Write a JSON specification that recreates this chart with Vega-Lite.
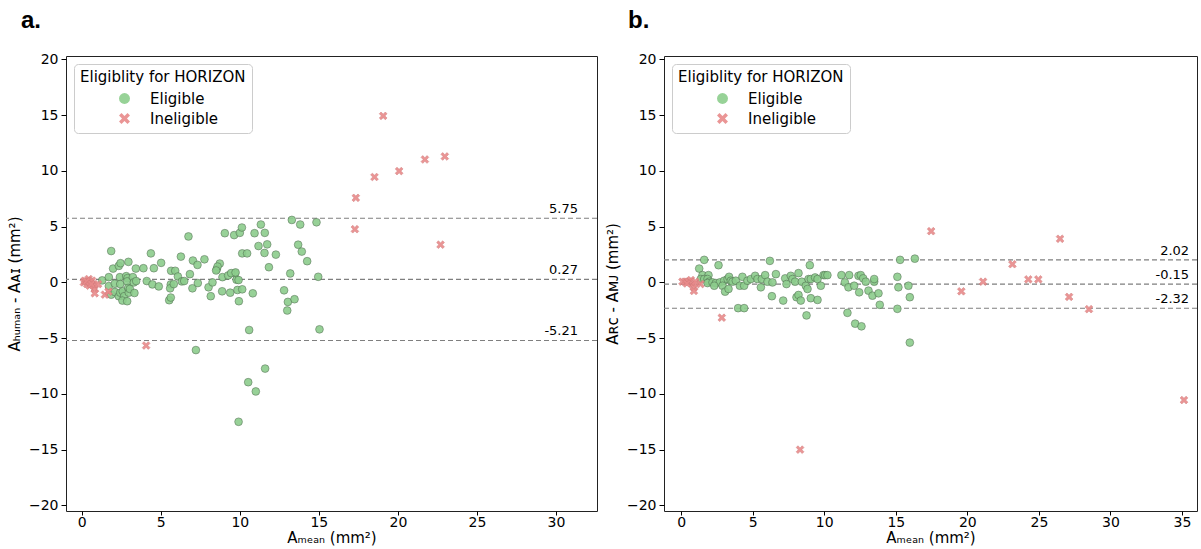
{
  "$schema": "https://vega.github.io/schema/vega-lite/v6.json",
  "autosize": {"type": "pad"},
  "padding": {"left": 6, "top": 8, "right": 2, "bottom": 0},
  "background": "white",
  "config": {
    "font": "DejaVu Sans",
    "view": {"stroke": "#222", "strokeWidth": 1},
    "legend": {
      "orient": "none", "legendX": 8, "legendY": 8, "fillColor": "white", "strokeColor": "#cccccc",
      "cornerRadius": 4, "padding": 6, "titleFontSize": 15, "titleFontWeight": "normal",
      "titleColor": "#000", "labelFontSize": 15, "labelColor": "#000", "symbolSize": 120,
      "symbolStrokeWidth": 0, "symbolOffset": 37, "labelOffset": 18, "rowPadding": 4, "titlePadding": 6
    },
    "title": {"fontSize": 24, "fontWeight": "bold", "font": "Liberation Sans", "anchor": "start", "color": "#000", "frame": "group"}
  },
  "datasets": {
    "pts": [
      {"panel":"a","x":1.86,"y":2.81,"g":"Eligible"},{"panel":"a","x":1.98,"y":1.24,"g":"Eligible"},{"panel":"a","x":2.34,"y":1.48,"g":"Eligible"},{"panel":"a","x":2.45,"y":1.72,"g":"Eligible"},{"panel":"a","x":2.95,"y":1.84,"g":"Eligible"},{"panel":"a","x":3.42,"y":1.24,"g":"Eligible"},{"panel":"a","x":3.9,"y":1.27,"g":"Eligible"},{"panel":"a","x":4.37,"y":2.6,"g":"Eligible"},{"panel":"a","x":4.56,"y":1.27,"g":"Eligible"},{"panel":"a","x":5.02,"y":1.75,"g":"Eligible"},{"panel":"a","x":6.75,"y":4.12,"g":"Eligible"},{"panel":"a","x":6.27,"y":2.31,"g":"Eligible"},{"panel":"a","x":7.03,"y":1.96,"g":"Eligible"},{"panel":"a","x":7.32,"y":1.57,"g":"Eligible"},{"panel":"a","x":7.76,"y":2.07,"g":"Eligible"},{"panel":"a","x":8.73,"y":1.69,"g":"Eligible"},{"panel":"a","x":8.54,"y":1.18,"g":"Eligible"},{"panel":"a","x":8.59,"y":1.42,"g":"Eligible"},{"panel":"a","x":9.05,"y":4.41,"g":"Eligible"},{"panel":"a","x":9.64,"y":4.24,"g":"Eligible"},{"panel":"a","x":10.0,"y":4.44,"g":"Eligible"},{"panel":"a","x":10.13,"y":4.92,"g":"Eligible"},{"panel":"a","x":10.15,"y":2.6,"g":"Eligible"},{"panel":"a","x":10.46,"y":2.6,"g":"Eligible"},{"panel":"a","x":10.93,"y":4.41,"g":"Eligible"},{"panel":"a","x":11.33,"y":5.19,"g":"Eligible"},{"panel":"a","x":11.58,"y":4.44,"g":"Eligible"},{"panel":"a","x":11.18,"y":3.26,"g":"Eligible"},{"panel":"a","x":11.56,"y":2.64,"g":"Eligible"},{"panel":"a","x":11.73,"y":3.41,"g":"Eligible"},{"panel":"a","x":11.84,"y":1.36,"g":"Eligible"},{"panel":"a","x":12.28,"y":2.49,"g":"Eligible"},{"panel":"a","x":13.29,"y":5.6,"g":"Eligible"},{"panel":"a","x":13.69,"y":3.38,"g":"Eligible"},{"panel":"a","x":13.82,"y":5.19,"g":"Eligible"},{"panel":"a","x":13.92,"y":2.76,"g":"Eligible"},{"panel":"a","x":14.26,"y":1.9,"g":"Eligible"},{"panel":"a","x":14.85,"y":5.39,"g":"Eligible"},{"panel":"a","x":14.96,"y":0.5,"g":"Eligible"},{"panel":"a","x":13.19,"y":0.8,"g":"Eligible"},{"panel":"a","x":12.8,"y":-0.71,"g":"Eligible"},{"panel":"a","x":13.04,"y":-1.75,"g":"Eligible"},{"panel":"a","x":13.46,"y":-1.51,"g":"Eligible"},{"panel":"a","x":13.0,"y":-2.52,"g":"Eligible"},{"panel":"a","x":15.04,"y":-4.21,"g":"Eligible"},{"panel":"a","x":10.59,"y":-4.27,"g":"Eligible"},{"panel":"a","x":11.6,"y":-7.73,"g":"Eligible"},{"panel":"a","x":7.22,"y":-6.07,"g":"Eligible"},{"panel":"a","x":10.53,"y":-8.95,"g":"Eligible"},{"panel":"a","x":9.92,"y":-12.5,"g":"Eligible"},{"panel":"a","x":11.01,"y":-9.78,"g":"Eligible"},{"panel":"a","x":1.29,"y":0.18,"g":"Eligible"},{"panel":"a","x":1.71,"y":0.47,"g":"Eligible"},{"panel":"a","x":1.71,"y":-0.33,"g":"Eligible"},{"panel":"a","x":2.09,"y":-0.12,"g":"Eligible"},{"panel":"a","x":2.41,"y":0.47,"g":"Eligible"},{"panel":"a","x":2.43,"y":-0.15,"g":"Eligible"},{"panel":"a","x":2.81,"y":0.56,"g":"Eligible"},{"panel":"a","x":2.89,"y":0.38,"g":"Eligible"},{"panel":"a","x":2.87,"y":0.09,"g":"Eligible"},{"panel":"a","x":3.23,"y":0.47,"g":"Eligible"},{"panel":"a","x":3.29,"y":0.0,"g":"Eligible"},{"panel":"a","x":3.44,"y":0.12,"g":"Eligible"},{"panel":"a","x":1.86,"y":-1.1,"g":"Eligible"},{"panel":"a","x":2.09,"y":-0.86,"g":"Eligible"},{"panel":"a","x":2.34,"y":-1.24,"g":"Eligible"},{"panel":"a","x":2.43,"y":-0.92,"g":"Eligible"},{"panel":"a","x":2.59,"y":-0.8,"g":"Eligible"},{"panel":"a","x":2.68,"y":-1.24,"g":"Eligible"},{"panel":"a","x":2.93,"y":-0.5,"g":"Eligible"},{"panel":"a","x":2.97,"y":-0.92,"g":"Eligible"},{"panel":"a","x":3.04,"y":-0.59,"g":"Eligible"},{"panel":"a","x":3.33,"y":-0.95,"g":"Eligible"},{"panel":"a","x":2.57,"y":-1.63,"g":"Eligible"},{"panel":"a","x":2.87,"y":-1.69,"g":"Eligible"},{"panel":"a","x":4.11,"y":0.12,"g":"Eligible"},{"panel":"a","x":4.47,"y":-0.18,"g":"Eligible"},{"panel":"a","x":4.87,"y":-0.36,"g":"Eligible"},{"panel":"a","x":5.65,"y":1.04,"g":"Eligible"},{"panel":"a","x":5.91,"y":1.04,"g":"Eligible"},{"panel":"a","x":6.08,"y":0.53,"g":"Eligible"},{"panel":"a","x":5.63,"y":-0.18,"g":"Eligible"},{"panel":"a","x":5.59,"y":-0.53,"g":"Eligible"},{"panel":"a","x":5.82,"y":-0.15,"g":"Eligible"},{"panel":"a","x":5.53,"y":-1.6,"g":"Eligible"},{"panel":"a","x":5.63,"y":-1.36,"g":"Eligible"},{"panel":"a","x":6.84,"y":0.74,"g":"Eligible"},{"panel":"a","x":6.33,"y":0.09,"g":"Eligible"},{"panel":"a","x":6.48,"y":0.12,"g":"Eligible"},{"panel":"a","x":7.0,"y":-0.53,"g":"Eligible"},{"panel":"a","x":7.34,"y":-0.06,"g":"Eligible"},{"panel":"a","x":8.02,"y":-0.44,"g":"Eligible"},{"panel":"a","x":8.27,"y":0.0,"g":"Eligible"},{"panel":"a","x":8.16,"y":-1.24,"g":"Eligible"},{"panel":"a","x":8.9,"y":0.47,"g":"Eligible"},{"panel":"a","x":9.26,"y":0.62,"g":"Eligible"},{"panel":"a","x":9.68,"y":0.8,"g":"Eligible"},{"panel":"a","x":9.79,"y":0.24,"g":"Eligible"},{"panel":"a","x":9.92,"y":0.21,"g":"Eligible"},{"panel":"a","x":8.88,"y":-0.8,"g":"Eligible"},{"panel":"a","x":9.39,"y":-0.92,"g":"Eligible"},{"panel":"a","x":9.85,"y":-0.68,"g":"Eligible"},{"panel":"a","x":10.15,"y":-0.62,"g":"Eligible"},{"panel":"a","x":9.94,"y":-1.69,"g":"Eligible"},{"panel":"a","x":10.82,"y":-0.98,"g":"Eligible"},{"panel":"a","x":9.45,"y":0.83,"g":"Eligible"},{"panel":"a","x":9.73,"y":0.89,"g":"Eligible"},{"panel":"a","x":8.5,"y":1.07,"g":"Eligible"},
      {"panel":"a","x":0.13,"y":0.0,"g":"Ineligible"},{"panel":"a","x":0.19,"y":0.15,"g":"Ineligible"},{"panel":"a","x":0.34,"y":-0.15,"g":"Ineligible"},{"panel":"a","x":0.44,"y":0.3,"g":"Ineligible"},{"panel":"a","x":0.55,"y":0.0,"g":"Ineligible"},{"panel":"a","x":0.65,"y":0.15,"g":"Ineligible"},{"panel":"a","x":0.76,"y":-0.3,"g":"Ineligible"},{"panel":"a","x":0.82,"y":-0.59,"g":"Ineligible"},{"panel":"a","x":0.82,"y":-0.98,"g":"Ineligible"},{"panel":"a","x":1.03,"y":-0.15,"g":"Ineligible"},{"panel":"a","x":1.46,"y":-1.1,"g":"Ineligible"},{"panel":"a","x":1.69,"y":-0.83,"g":"Ineligible"},{"panel":"a","x":0.3,"y":0.1,"g":"Ineligible"},{"panel":"a","x":0.5,"y":-0.3,"g":"Ineligible"},{"panel":"a","x":0.6,"y":-0.15,"g":"Ineligible"},{"panel":"a","x":4.07,"y":-5.66,"g":"Ineligible"},{"panel":"a","x":17.34,"y":7.58,"g":"Ineligible"},{"panel":"a","x":17.28,"y":4.77,"g":"Ineligible"},{"panel":"a","x":18.52,"y":9.45,"g":"Ineligible"},{"panel":"a","x":19.07,"y":14.93,"g":"Ineligible"},{"panel":"a","x":20.08,"y":9.98,"g":"Ineligible"},{"panel":"a","x":21.71,"y":11.02,"g":"Ineligible"},{"panel":"a","x":22.97,"y":11.29,"g":"Ineligible"},{"panel":"a","x":22.7,"y":3.38,"g":"Ineligible"},
      {"panel":"b","x":1.61,"y":2.02,"g":"Eligible"},{"panel":"b","x":1.26,"y":1.24,"g":"Eligible"},{"panel":"b","x":1.49,"y":0.65,"g":"Eligible"},{"panel":"b","x":1.91,"y":0.65,"g":"Eligible"},{"panel":"b","x":1.37,"y":0.3,"g":"Eligible"},{"panel":"b","x":1.61,"y":0.3,"g":"Eligible"},{"panel":"b","x":1.84,"y":0.3,"g":"Eligible"},{"panel":"b","x":1.96,"y":0.06,"g":"Eligible"},{"panel":"b","x":1.84,"y":-0.06,"g":"Eligible"},{"panel":"b","x":2.19,"y":0.0,"g":"Eligible"},{"panel":"b","x":2.42,"y":-0.06,"g":"Eligible"},{"panel":"b","x":2.7,"y":0.0,"g":"Eligible"},{"panel":"b","x":3.0,"y":0.15,"g":"Eligible"},{"panel":"b","x":3.24,"y":0.3,"g":"Eligible"},{"panel":"b","x":3.35,"y":0.5,"g":"Eligible"},{"panel":"b","x":3.47,"y":0.15,"g":"Eligible"},{"panel":"b","x":2.61,"y":1.54,"g":"Eligible"},{"panel":"b","x":2.31,"y":-0.3,"g":"Eligible"},{"panel":"b","x":2.89,"y":-0.3,"g":"Eligible"},{"panel":"b","x":3.07,"y":-0.83,"g":"Eligible"},{"panel":"b","x":3.31,"y":-0.59,"g":"Eligible"},{"panel":"b","x":3.59,"y":0.06,"g":"Eligible"},{"panel":"b","x":3.82,"y":0.15,"g":"Eligible"},{"panel":"b","x":4.1,"y":-0.3,"g":"Eligible"},{"panel":"b","x":4.28,"y":0.5,"g":"Eligible"},{"panel":"b","x":4.4,"y":-0.3,"g":"Eligible"},{"panel":"b","x":4.63,"y":0.15,"g":"Eligible"},{"panel":"b","x":4.87,"y":0.3,"g":"Eligible"},{"panel":"b","x":5.17,"y":0.59,"g":"Eligible"},{"panel":"b","x":5.33,"y":0.3,"g":"Eligible"},{"panel":"b","x":5.57,"y":-0.44,"g":"Eligible"},{"panel":"b","x":5.64,"y":0.3,"g":"Eligible"},{"panel":"b","x":5.87,"y":0.65,"g":"Eligible"},{"panel":"b","x":6.03,"y":0.06,"g":"Eligible"},{"panel":"b","x":6.2,"y":1.93,"g":"Eligible"},{"panel":"b","x":6.34,"y":-1.24,"g":"Eligible"},{"panel":"b","x":6.38,"y":0.0,"g":"Eligible"},{"panel":"b","x":6.62,"y":0.74,"g":"Eligible"},{"panel":"b","x":3.98,"y":-2.31,"g":"Eligible"},{"panel":"b","x":4.4,"y":-2.31,"g":"Eligible"},{"panel":"b","x":7.13,"y":-1.63,"g":"Eligible"},{"panel":"b","x":7.27,"y":0.36,"g":"Eligible"},{"panel":"b","x":7.36,"y":-0.15,"g":"Eligible"},{"panel":"b","x":7.66,"y":0.59,"g":"Eligible"},{"panel":"b","x":7.78,"y":0.3,"g":"Eligible"},{"panel":"b","x":7.96,"y":0.06,"g":"Eligible"},{"panel":"b","x":8.2,"y":0.83,"g":"Eligible"},{"panel":"b","x":8.06,"y":-1.33,"g":"Eligible"},{"panel":"b","x":8.2,"y":-1.13,"g":"Eligible"},{"panel":"b","x":8.36,"y":-1.63,"g":"Eligible"},{"panel":"b","x":8.43,"y":0.06,"g":"Eligible"},{"panel":"b","x":8.71,"y":-0.3,"g":"Eligible"},{"panel":"b","x":8.83,"y":-0.59,"g":"Eligible"},{"panel":"b","x":8.9,"y":0.3,"g":"Eligible"},{"panel":"b","x":8.99,"y":1.54,"g":"Eligible"},{"panel":"b","x":9.06,"y":0.3,"g":"Eligible"},{"panel":"b","x":9.36,"y":0.44,"g":"Eligible"},{"panel":"b","x":9.53,"y":0.3,"g":"Eligible"},{"panel":"b","x":9.76,"y":-0.3,"g":"Eligible"},{"panel":"b","x":9.95,"y":0.65,"g":"Eligible"},{"panel":"b","x":10.06,"y":0.65,"g":"Eligible"},{"panel":"b","x":10.22,"y":0.65,"g":"Eligible"},{"panel":"b","x":8.76,"y":-2.96,"g":"Eligible"},{"panel":"b","x":9.06,"y":-1.42,"g":"Eligible"},{"panel":"b","x":9.53,"y":-1.57,"g":"Eligible"},{"panel":"b","x":11.2,"y":0.65,"g":"Eligible"},{"panel":"b","x":11.44,"y":0.0,"g":"Eligible"},{"panel":"b","x":11.69,"y":-0.44,"g":"Eligible"},{"panel":"b","x":11.74,"y":0.65,"g":"Eligible"},{"panel":"b","x":12.09,"y":-0.3,"g":"Eligible"},{"panel":"b","x":12.39,"y":0.59,"g":"Eligible"},{"panel":"b","x":12.44,"y":-0.89,"g":"Eligible"},{"panel":"b","x":12.55,"y":0.65,"g":"Eligible"},{"panel":"b","x":12.72,"y":0.36,"g":"Eligible"},{"panel":"b","x":12.9,"y":0.06,"g":"Eligible"},{"panel":"b","x":13.09,"y":-0.74,"g":"Eligible"},{"panel":"b","x":13.49,"y":0.06,"g":"Eligible"},{"panel":"b","x":13.49,"y":0.3,"g":"Eligible"},{"panel":"b","x":13.37,"y":-1.19,"g":"Eligible"},{"panel":"b","x":13.79,"y":-0.98,"g":"Eligible"},{"panel":"b","x":13.88,"y":-2.01,"g":"Eligible"},{"panel":"b","x":11.62,"y":-2.73,"g":"Eligible"},{"panel":"b","x":12.16,"y":-3.7,"g":"Eligible"},{"panel":"b","x":12.6,"y":-3.94,"g":"Eligible"},{"panel":"b","x":15.11,"y":0.5,"g":"Eligible"},{"panel":"b","x":15.18,"y":-0.44,"g":"Eligible"},{"panel":"b","x":15.3,"y":2.02,"g":"Eligible"},{"panel":"b","x":15.11,"y":-2.37,"g":"Eligible"},{"panel":"b","x":15.88,"y":-0.3,"g":"Eligible"},{"panel":"b","x":15.98,"y":-1.33,"g":"Eligible"},{"panel":"b","x":16.33,"y":2.13,"g":"Eligible"},{"panel":"b","x":15.98,"y":-5.4,"g":"Eligible"},
      {"panel":"b","x":0.09,"y":0.06,"g":"Ineligible"},{"panel":"b","x":0.28,"y":0.06,"g":"Ineligible"},{"panel":"b","x":0.51,"y":0.06,"g":"Ineligible"},{"panel":"b","x":0.68,"y":0.21,"g":"Ineligible"},{"panel":"b","x":0.79,"y":-0.15,"g":"Ineligible"},{"panel":"b","x":0.89,"y":-0.44,"g":"Ineligible"},{"panel":"b","x":0.89,"y":-0.77,"g":"Ineligible"},{"panel":"b","x":0.98,"y":0.06,"g":"Ineligible"},{"panel":"b","x":1.35,"y":-0.15,"g":"Ineligible"},{"panel":"b","x":0.4,"y":-0.1,"g":"Ineligible"},{"panel":"b","x":2.84,"y":-3.17,"g":"Ineligible"},{"panel":"b","x":8.31,"y":-15.0,"g":"Ineligible"},{"panel":"b","x":17.47,"y":4.59,"g":"Ineligible"},{"panel":"b","x":19.58,"y":-0.8,"g":"Ineligible"},{"panel":"b","x":21.1,"y":0.06,"g":"Ineligible"},{"panel":"b","x":23.15,"y":1.63,"g":"Ineligible"},{"panel":"b","x":24.26,"y":0.27,"g":"Ineligible"},{"panel":"b","x":24.96,"y":0.27,"g":"Ineligible"},{"panel":"b","x":26.48,"y":3.91,"g":"Ineligible"},{"panel":"b","x":27.11,"y":-1.3,"g":"Ineligible"},{"panel":"b","x":28.5,"y":-2.4,"g":"Ineligible"},{"panel":"b","x":35.14,"y":-10.55,"g":"Ineligible"}
    ],
    "means": [
      {"panel":"a","v":5.75,"label":"5.75","lx":31.4},
      {"panel":"a","v":0.27,"label":"0.27","lx":31.4},
      {"panel":"a","v":-5.21,"label":"-5.21","lx":31.4},
      {"panel":"b","v":2.02,"label":"2.02","lx":35.5},
      {"panel":"b","v":-0.15,"label":"-0.15","lx":35.5},
      {"panel":"b","v":-2.32,"label":"-2.32","lx":35.5}
    ]
  },
  "resolve": {
    "scale": {"color": "independent", "shape": "independent", "x": "independent", "y": "independent"},
    "legend": {"color": "independent", "shape": "independent"}
  },
  "spacing": 5,
  "hconcat": [
    {
      "title": {"text": "a.", "dx": -45, "offset": 19},
      "width": 531, "height": 455,
      "layer": [
        {
          "data": {"name": "means"},
          "transform": [{"filter": "datum.panel === 'a'"}],
          "mark": {"type": "rule", "color": "#7f7f7f", "strokeDash": [5, 3], "strokeWidth": 1.2},
          "encoding": {"y": {"field": "v", "type": "quantitative", "scale": {"domain": [-20.5, 20.3], "nice": false, "zero": false}}}
        },
        {
          "data": {"name": "means"},
          "transform": [{"filter": "datum.panel === 'a'"}],
          "mark": {"type": "text", "align": "right", "baseline": "bottom", "dy": -2, "fontSize": 13, "color": "#000"},
          "encoding": {
            "x": {"field": "lx", "type": "quantitative"},
            "y": {"field": "v", "type": "quantitative"},
            "text": {"field": "label"}
          }
        },
        {
          "data": {"name": "pts"},
          "transform": [{"filter": "datum.panel === 'a'"}],
          "mark": {"type": "point", "filled": true, "size": 60, "opacity": 0.9, "strokeWidth": 0.6},
          "encoding": {
            "x": {"field": "x", "type": "quantitative", "scale": {"domain": [-1.0, 32.6], "nice": false, "zero": false},
                  "axis": {"values": [0, 5, 10, 15, 20, 25, 30], "title": "Aₘₑₐₙ (mm²)", "grid": false, "domain": false,
                           "labelFontSize": 14, "titleFontSize": 15, "titleFontWeight": "normal", "labelColor": "#000", "titleColor": "#000",
                           "tickColor": "#000", "tickSize": 4, "labelPadding": 0, "titleBaseline": "alphabetic", "titleY": 31}},
            "y": {"field": "y", "type": "quantitative",
                  "axis": {"values": [-20, -15, -10, -5, 0, 5, 10, 15, 20], "title": "Aₕᵤₘₐₙ - Aᴀɪ (mm²)", "grid": false, "domain": false,
                           "labelFontSize": 14, "titleFontSize": 15, "titleFontWeight": "normal", "labelColor": "#000", "titleColor": "#000",
                           "tickColor": "#000", "tickSize": 5, "labelPadding": 3, "titlePadding": 6}},
            "color": {"field": "g", "type": "nominal", "title": "Eligiblity for HORIZON",
                      "scale": {"domain": ["Eligible", "Ineligible"], "range": ["#8ccd8c", "#e88a8a"]}},
            "shape": {"field": "g", "type": "nominal", "title": "Eligiblity for HORIZON",
                      "scale": {"domain": ["Eligible", "Ineligible"], "range": ["circle", "M-1,-0.55L-0.55,-1L0,-0.45L0.55,-1L1,-0.55L0.45,0L1,0.55L0.55,1L0,0.45L-0.55,1L-1,0.55L-0.45,0Z"]}},
            "stroke": {"field": "g", "type": "nominal", "legend": null,
                       "scale": {"domain": ["Eligible", "Ineligible"], "range": ["#4f6b4f", "#d27a7a"]}}
          }
        }
      ]
    },
    {
      "title": {"text": "b.", "dx": -36, "offset": 19},
      "width": 533, "height": 455,
      "layer": [
        {
          "data": {"name": "means"},
          "transform": [{"filter": "datum.panel === 'b'"}],
          "mark": {"type": "rule", "color": "#7f7f7f", "strokeDash": [5, 3], "strokeWidth": 1.2},
          "encoding": {"y": {"field": "v", "type": "quantitative", "scale": {"domain": [-20.5, 20.3], "nice": false, "zero": false}}}
        },
        {
          "data": {"name": "means"},
          "transform": [{"filter": "datum.panel === 'b'"}],
          "mark": {"type": "text", "align": "right", "baseline": "bottom", "dy": -2, "fontSize": 13, "color": "#000"},
          "encoding": {
            "x": {"field": "lx", "type": "quantitative"},
            "y": {"field": "v", "type": "quantitative"},
            "text": {"field": "label"}
          }
        },
        {
          "data": {"name": "pts"},
          "transform": [{"filter": "datum.panel === 'b'"}],
          "mark": {"type": "point", "filled": true, "size": 60, "opacity": 0.9, "strokeWidth": 0.6},
          "encoding": {
            "x": {"field": "x", "type": "quantitative", "scale": {"domain": [-1.2, 36.05], "nice": false, "zero": false},
                  "axis": {"values": [0, 5, 10, 15, 20, 25, 30, 35], "title": "Aₘₑₐₙ (mm²)", "grid": false, "domain": false,
                           "labelFontSize": 14, "titleFontSize": 15, "titleFontWeight": "normal", "labelColor": "#000", "titleColor": "#000",
                           "tickColor": "#000", "tickSize": 4, "labelPadding": 0, "titleBaseline": "alphabetic", "titleY": 31}},
            "y": {"field": "y", "type": "quantitative",
                  "axis": {"values": [-20, -15, -10, -5, 0, 5, 10, 15, 20], "title": "Aʀᴄ - Aᴍᴊ (mm²)", "grid": false, "domain": false,
                           "labelFontSize": 14, "titleFontSize": 15, "titleFontWeight": "normal", "labelColor": "#000", "titleColor": "#000",
                           "tickColor": "#000", "tickSize": 5, "labelPadding": 3, "titlePadding": 6}},
            "color": {"field": "g", "type": "nominal", "title": "Eligiblity for HORIZON",
                      "scale": {"domain": ["Eligible", "Ineligible"], "range": ["#8ccd8c", "#e88a8a"]}},
            "shape": {"field": "g", "type": "nominal", "title": "Eligiblity for HORIZON",
                      "scale": {"domain": ["Eligible", "Ineligible"], "range": ["circle", "M-1,-0.55L-0.55,-1L0,-0.45L0.55,-1L1,-0.55L0.45,0L1,0.55L0.55,1L0,0.45L-0.55,1L-1,0.55L-0.45,0Z"]}},
            "stroke": {"field": "g", "type": "nominal", "legend": null,
                       "scale": {"domain": ["Eligible", "Ineligible"], "range": ["#4f6b4f", "#d27a7a"]}}
          }
        }
      ]
    }
  ]
}
